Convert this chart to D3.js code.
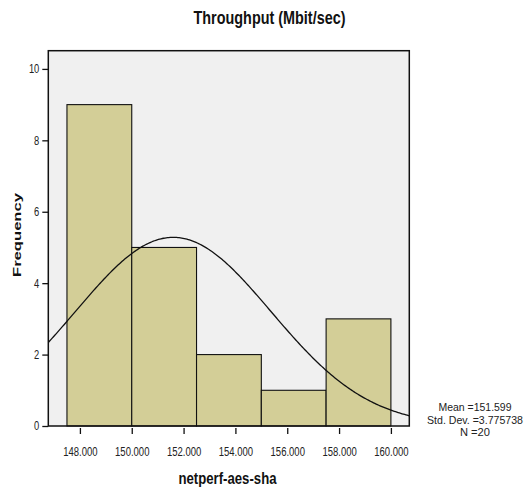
<!DOCTYPE html>
<html>
<head>
<meta charset="utf-8">
<script src="https://cdn.jsdelivr.net/npm/d3@7"></script>
<style>
  body { margin: 0; background: #fff; }
  svg { display: block; }
</style>
</head>
<body>
<div id="chart"></div>
<script>
// Histogram bins (lower edge) and counts
const binStarts = [147.5, 150.0, 152.5, 155.0, 157.5];
const binWidth = 2.5;
const counts = [9, 5, 2, 1, 3];
const xTicks = [148, 150, 152, 154, 156, 158, 160];
const yTicks = [0, 2, 4, 6, 8, 10];
const mean = 151.599;
const stdDev = 3.775738;
const n = 20;
const statLines = ["Mean =151.599", "Std. Dev. =3.775738", "N =20"];

const width = 530;
const height = 490;
const font = "'Liberation Sans', Arial, sans-serif";

// no condensed font installed, so squeeze text to the reference widths
function squeeze(sel, factor) {
    sel.each(function() {
        const len = this.getComputedTextLength();
        d3.select(this).attr("textLength", len * factor).attr("lengthAdjust", "spacingAndGlyphs");
    });
}

const svg = d3.select("#chart")
    .append("svg")
        .attr("width", width)
        .attr("height", height)
        .attr("viewBox", [0, 0, width, height]);

// Scales (domain runs a bit past the bins like the SPSS frame does)
const x = d3.scaleLinear().domain([146.78, 160.71]).range([48.3, 409.3]);
const y = d3.scaleLinear().domain([0, 10.51]).range([426, 50.7]);

// Plot background
svg.append("rect")
    .attr("x", x.range()[0])
    .attr("y", y.range()[1])
    .attr("width", x.range()[1] - x.range()[0])
    .attr("height", y.range()[0] - y.range()[1])
    .attr("fill", "#f0f0f0");

svg.append("clipPath").attr("id", "plotClip")
  .append("rect")
    .attr("x", x.range()[0])
    .attr("y", y.range()[1])
    .attr("width", x.range()[1] - x.range()[0])
    .attr("height", y.range()[0] - y.range()[1]);

// Bars
svg.append("g")
    .selectAll("rect")
    .data(binStarts.map((s, i) => ({ start: s, count: counts[i] })))
    .join("rect")
        .attr("x", d => x(d.start))
        .attr("y", d => y(d.count))
        .attr("width", d => x(d.start + binWidth) - x(d.start))
        .attr("height", d => y(0) - y(d.count))
        .attr("fill", "#d3ce97")
        .attr("stroke", "#111")
        .attr("stroke-width", 1.1);

// Normal curve from the mean / std. dev. shown at the right
const scaleFactor = n * binWidth / (stdDev * Math.sqrt(2 * Math.PI));
const curvePts = d3.range(x.domain()[0], x.domain()[1] + 0.05, 0.05)
    .map(v => [v, scaleFactor * Math.exp(-0.5 * ((v - mean) / stdDev) ** 2)]);

svg.append("path")
    .datum(curvePts)
    .attr("clip-path", "url(#plotClip)")
    .attr("fill", "none")
    .attr("stroke", "#111")
    .attr("stroke-width", 1.3)
    .attr("d", d3.line().x(d => x(d[0])).y(d => y(d[1])));

// Frame
svg.append("rect")
    .attr("x", x.range()[0])
    .attr("y", y.range()[1])
    .attr("width", x.range()[1] - x.range()[0])
    .attr("height", y.range()[0] - y.range()[1])
    .attr("fill", "none")
    .attr("stroke", "#111")
    .attr("stroke-width", 1.5);

// Y axis
const yAxis = svg.append("g")
    .attr("transform", `translate(${x.range()[0]},0)`)
    .call(d3.axisLeft(y).tickValues(yTicks).tickSize(6).tickPadding(3).tickFormat(d3.format("d")));
yAxis.select(".domain").remove();
yAxis.selectAll("line").attr("stroke", "#111").attr("stroke-width", 1.3);
yAxis.selectAll("text")
    .attr("font-family", font).attr("font-size", 12).attr("fill", "#222")
    .call(squeeze, 0.78);

// X axis (ticks hang a little below the frame)
const xAxis = svg.append("g")
    .attr("transform", `translate(0,${y.range()[0] + 2})`)
    .call(d3.axisBottom(x).tickValues(xTicks).tickSize(6).tickFormat(d3.format(".3f")));
xAxis.select(".domain").remove();
xAxis.selectAll("line").attr("stroke", "#111").attr("stroke-width", 1.3);
xAxis.selectAll("text")
    .attr("y", 27.5).attr("dy", null)
    .attr("font-family", font).attr("font-size", 12.5).attr("fill", "#222")
    .call(squeeze, 0.76);

// Title
svg.append("text")
    .attr("x", 269.5)
    .attr("y", 24)
    .attr("text-anchor", "middle")
    .attr("font-family", font)
    .attr("font-weight", "bold")
    .attr("font-size", 19)
    .attr("fill", "#111")
    .attr("textLength", 152)
    .attr("lengthAdjust", "spacingAndGlyphs")
    .text("Throughput (Mbit/sec)");

// Axis titles
svg.append("text")
    .attr("x", 227.5)
    .attr("y", 484)
    .attr("text-anchor", "middle")
    .attr("font-family", font)
    .attr("font-weight", "bold")
    .attr("font-size", 16)
    .attr("fill", "#111")
    .attr("textLength", 98)
    .attr("lengthAdjust", "spacingAndGlyphs")
    .text("netperf-aes-sha");

svg.append("text")
    .attr("transform", "translate(20.5,235) rotate(-90)")
    .attr("text-anchor", "middle")
    .attr("font-family", font)
    .attr("font-weight", "bold")
    .attr("font-size", 11.5)
    .attr("fill", "#111")
    .attr("textLength", 84)
    .attr("lengthAdjust", "spacingAndGlyphs")
    .text("Frequency");

// Stats text
const statWidths = [73, 96, 30];
svg.append("g")
    .selectAll("text")
    .data(statLines)
    .join("text")
        .attr("x", 475)
        .attr("y", (d, i) => 411 + i * 12.5)
        .attr("text-anchor", "middle")
        .attr("font-family", font)
        .attr("font-size", 11)
        .attr("fill", "#222")
        .attr("textLength", (d, i) => statWidths[i])
        .attr("lengthAdjust", "spacingAndGlyphs")
        .text(d => d);
</script>
</body>
</html>
